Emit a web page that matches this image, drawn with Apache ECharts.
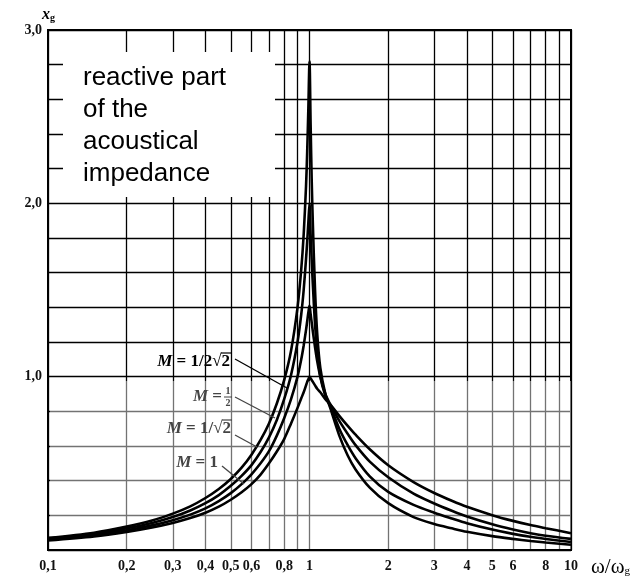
<!DOCTYPE html>
<html>
<head>
<meta charset="utf-8">
<script src="https://cdn.jsdelivr.net/npm/echarts@6/dist/echarts.min.js"></script>
<style>
  html, body { margin: 0; padding: 0; background: #fff; }
  #chart { width: 643px; height: 577px; }
</style>
</head>
<body>
<div id="chart"></div>
<script>
// Frequency ratio ω/ω_g, rising flank (below resonance)
const omegaLow = [0.1, 0.15, 0.2, 0.25, 0.3, 0.35, 0.4, 0.45, 0.5, 0.55, 0.6, 0.65, 0.7, 0.75,
                  0.8, 0.85, 0.9, 0.93, 0.95, 0.97, 0.98, 0.99, 1.0];
// Frequency ratio ω/ω_g, falling flank (above resonance)
const omegaHigh = [1.01, 1.02, 1.03, 1.05, 1.07, 1.1, 1.15, 1.2, 1.3, 1.4, 1.5, 1.7, 2, 2.5,
                   3, 3.5, 4, 5, 6, 7, 8, 10];

// Reactance x_g for M = 1/(2√2)
const xM0354Low  = [0.070, 0.100, 0.135, 0.170, 0.210, 0.252, 0.300, 0.352, 0.410, 0.475, 0.550, 0.635, 0.730, 0.845,
                    0.980, 1.150, 1.400, 1.620, 1.820, 2.100, 2.300, 2.550, 2.820];
const xM0354High = [2.450, 2.120, 1.880, 1.500, 1.250, 1.050, 0.900, 0.820, 0.660, 0.545, 0.465, 0.360, 0.270, 0.190,
                    0.150, 0.125, 0.105, 0.080, 0.064, 0.052, 0.043, 0.030];
// Reactance x_g for M = 1/2
const xM05Low    = [0.065, 0.093, 0.125, 0.156, 0.190, 0.228, 0.270, 0.317, 0.370, 0.428, 0.490, 0.565, 0.650, 0.750,
                    0.870, 1.010, 1.200, 1.360, 1.500, 1.680, 1.780, 1.890, 2.000];
const xM05High   = [1.820, 1.660, 1.530, 1.300, 1.150, 1.000, 0.890, 0.830, 0.700, 0.605, 0.530, 0.425, 0.335, 0.260,
                    0.215, 0.182, 0.155, 0.118, 0.093, 0.076, 0.063, 0.046];
// Reactance x_g for M = 1/√2
const xM0707Low  = [0.060, 0.086, 0.114, 0.142, 0.172, 0.204, 0.240, 0.282, 0.328, 0.380, 0.437, 0.500, 0.570, 0.660,
                    0.760, 0.870, 1.000, 1.100, 1.180, 1.270, 1.320, 1.370, 1.410];
const xM0707High = [1.360, 1.310, 1.260, 1.170, 1.090, 1.000, 0.900, 0.840, 0.745, 0.670, 0.605, 0.510, 0.420, 0.325,
                    0.268, 0.226, 0.193, 0.148, 0.118, 0.097, 0.082, 0.064];
// Reactance x_g for M = 1
const xM1Low     = [0.055, 0.078, 0.104, 0.130, 0.156, 0.184, 0.215, 0.250, 0.290, 0.333, 0.380, 0.435, 0.500, 0.568,
                    0.640, 0.730, 0.820, 0.875, 0.910, 0.950, 0.970, 0.985, 1.000];
const xM1High    = [0.990, 0.980, 0.970, 0.950, 0.930, 0.910, 0.870, 0.840, 0.774, 0.716, 0.665, 0.581, 0.489, 0.392,
                    0.329, 0.284, 0.249, 0.201, 0.168, 0.144, 0.126, 0.097];

// Axis ticks
const gridLinesX = [0.1, 0.2, 0.3, 0.4, 0.5, 0.6, 0.7, 0.8, 0.9, 1, 2, 3, 4, 5, 6, 7, 8, 9, 10];
const tickLabelsX = [0.1, 0.2, 0.3, 0.4, 0.5, 0.6, 0.8, 1, 2, 3, 4, 5, 6, 8, 10];
const tickLabelsY = [1, 2, 3];

const omegaAll = omegaLow.concat(omegaHigh);
function pairs(low, high) {
  const ys = low.concat(high);
  return omegaAll.map((w, i) => [w, ys[i]]);
}

const curveStyle = { color: '#000', width: 2.6 };
function curve(name, low, high) {
  return {
    name: name, type: 'line', data: pairs(low, high),
    showSymbol: false, smooth: 0.3, z: 3,
    lineStyle: curveStyle, emphasis: { disabled: true }, silent: true
  };
}

const fmtComma = v => String(+(+v).toPrecision(3)).replace('.', ',');
const serif = '"Liberation Serif", "DejaVu Serif", serif';
const labelFont = 'bold 17px ' + serif;
const labelItalic = 'italic bold 17px ' + serif;
const faded = '#444';

const chart = echarts.init(document.getElementById('chart'), null, { renderer: 'canvas' });
chart.setOption({
  animation: false,
  backgroundColor: '#fff',
  grid: { left: 48, right: 72, top: 30, bottom: 27, show: true, borderColor: '#000', borderWidth: 2,
          backgroundColor: 'transparent' },
  xAxis: {
    type: 'log', logBase: 10, min: 0.1, max: 10,
    axisLine: { show: false },
    axisTick: { show: false, customValues: gridLinesX },
    axisLabel: {
      customValues: tickLabelsX, formatter: fmtComma, margin: 9,
      fontFamily: serif, fontWeight: 'bold', fontSize: 14, color: '#111'
    },
    splitLine: { show: true, lineStyle: { color: '#000', width: 1.3 } }
  },
  yAxis: {
    type: 'value', min: 0, max: 3, interval: 0.2,
    axisLine: { show: false }, axisTick: { show: false },
    axisLabel: {
      formatter: v => (tickLabelsY.some(t => Math.abs(t - v) < 1e-6) ? (+v).toFixed(1).replace('.', ',') : ''),
      margin: 6, fontFamily: serif, fontWeight: 'bold', fontSize: 14, color: '#111'
    },
    splitLine: { show: true, lineStyle: { color: '#000', width: 1.3 } }
  },
  graphic: [
    // washed-out lower band of the grid
    { type: 'rect', z: 1, silent: true,
      shape: { x: 50, y: 381, width: 521, height: 168 },
      style: { fill: 'rgba(255,255,255,0.45)' } },
    // caption box
    { type: 'rect', z: 1, silent: true,
      shape: { x: 63, y: 52, width: 212, height: 145 },
      style: { fill: '#fff' } },
    { type: 'text', z: 4, silent: true,
      style: { x: 83, y: 62, text: 'reactive part\nof the\nacoustical\nimpedance',
               font: '26px "Liberation Sans", Arial, sans-serif', lineHeight: 32,
               fill: '#000', verticalAlign: 'top', align: 'left' } },
    // y-axis name
    { type: 'text', z: 4, silent: true,
      style: { x: 42, y: 15, text: '{x|x}{g|g}', verticalAlign: 'middle',
               rich: { x: { font: 'italic bold 16px ' + serif, fill: '#000' },
                       g: { font: 'bold 10px ' + serif, fill: '#000', padding: [7, 0, 0, 0] } } } },
    // x-axis name
    { type: 'text', z: 4, silent: true,
      style: { x: 591, y: 567, text: '{w|ω/ω}{g|g}', verticalAlign: 'middle',
               rich: { w: { font: '21px ' + serif, fill: '#000' },
                       g: { font: '11px ' + serif, fill: '#000', padding: [9, 0, 0, 0] } } } },
    // curve labels with leader lines
    { type: 'text', z: 4, silent: true,
      style: { x: 230, y: 362, text: '{i|M} = 1/2√2', align: 'right', verticalAlign: 'middle',
               font: labelFont, fill: '#000',
               rich: { i: { font: labelItalic, fill: '#000' } } } },
    { type: 'line', z: 4, silent: true, shape: { x1: 221, y1: 353, x2: 231, y2: 353 },
      style: { stroke: '#000', lineWidth: 1.2 } },
    { type: 'line', z: 4, silent: true, shape: { x1: 235, y1: 359, x2: 287, y2: 388 },
      style: { stroke: '#000', lineWidth: 1.3 } },

    { type: 'text', z: 4, silent: true,
      style: { x: 222, y: 397, text: '{i|M} =', align: 'right', verticalAlign: 'middle',
               font: labelFont, fill: faded,
               rich: { i: { font: labelItalic, fill: faded } } } },
    { type: 'text', z: 4, silent: true,
      style: { x: 228, y: 391, text: '1', align: 'center', verticalAlign: 'middle',
               font: 'bold 10px ' + serif, fill: faded } },
    { type: 'line', z: 4, silent: true, shape: { x1: 224, y1: 397, x2: 232, y2: 397 },
      style: { stroke: faded, lineWidth: 1 } },
    { type: 'text', z: 4, silent: true,
      style: { x: 228, y: 403, text: '2', align: 'center', verticalAlign: 'middle',
               font: 'bold 10px ' + serif, fill: faded } },
    { type: 'line', z: 4, silent: true, shape: { x1: 235, y1: 397, x2: 275, y2: 418 },
      style: { stroke: faded, lineWidth: 1.3 } },

    { type: 'text', z: 4, silent: true,
      style: { x: 231, y: 429, text: '{i|M} = 1/√2', align: 'right', verticalAlign: 'middle',
               font: labelFont, fill: faded,
               rich: { i: { font: labelItalic, fill: faded } } } },
    { type: 'line', z: 4, silent: true, shape: { x1: 222, y1: 420, x2: 232, y2: 420 },
      style: { stroke: faded, lineWidth: 1.2 } },
    { type: 'line', z: 4, silent: true, shape: { x1: 235, y1: 435, x2: 257, y2: 447 },
      style: { stroke: faded, lineWidth: 1.3 } },

    { type: 'text', z: 4, silent: true,
      style: { x: 218, y: 463, text: '{i|M} = 1', align: 'right', verticalAlign: 'middle',
               font: labelFont, fill: faded,
               rich: { i: { font: labelItalic, fill: faded } } } },
    { type: 'line', z: 4, silent: true, shape: { x1: 222, y1: 466, x2: 244, y2: 484 },
      style: { stroke: faded, lineWidth: 1.3 } }
  ],
  series: [
    curve('M = 1/(2√2)', xM0354Low, xM0354High),
    curve('M = 1/2', xM05Low, xM05High),
    curve('M = 1/√2', xM0707Low, xM0707High),
    curve('M = 1', xM1Low, xM1High)
  ]
});
</script>
</body>
</html>
